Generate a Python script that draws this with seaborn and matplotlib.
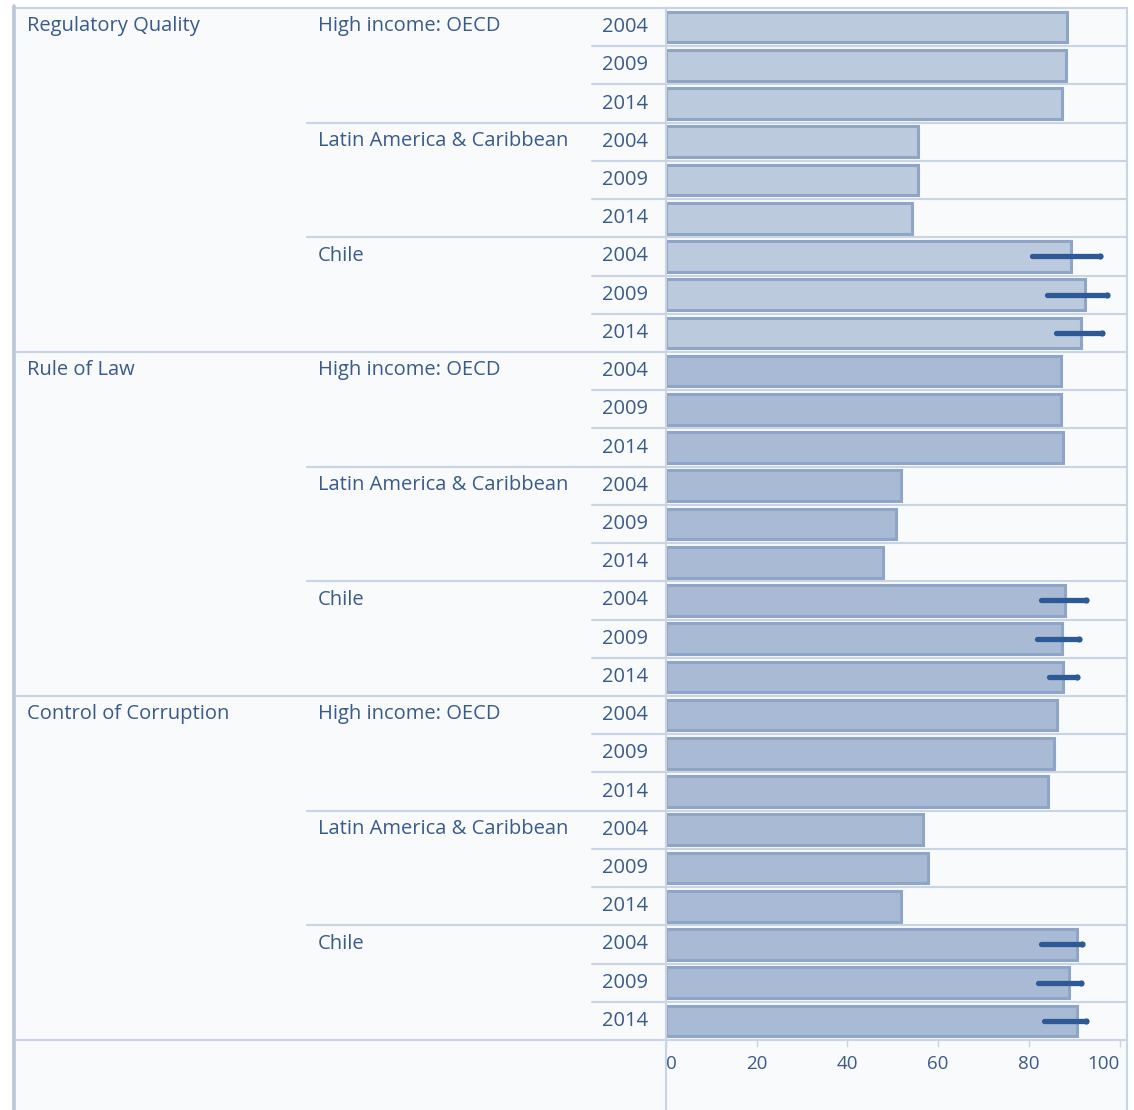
import matplotlib
matplotlib.use("Agg")
import matplotlib.pyplot as plt
import seaborn as sns
import pandas as pd
import numpy as np
from matplotlib import transforms
from matplotlib.lines import Line2D
from matplotlib.patches import Rectangle

# ---------------- data ----------------
indicators = ["Regulatory Quality", "Rule of Law", "Control of Corruption"]
regions = ["High income: OECD", "Latin America & Caribbean", "Chile"]
years = ["2004", "2009", "2014"]

rq_values = [88.4, 88.1, 87.2, 55.5, 55.5, 54.2, 89.2, 92.4, 91.6]
rl_values = [87.0, 87.0, 87.5, 51.7, 50.6, 47.8, 88.0, 87.3, 87.6]
cc_values = [86.3, 85.5, 84.3, 56.6, 57.8, 51.7, 90.5, 88.9, 90.5]

chile_lower = [80.7, 84.1, 85.9, 82.7, 81.9, 84.4, 82.7, 82.0, 83.4]
chile_upper = [95.7, 97.2, 96.1, 92.6, 91.0, 90.6, 91.8, 91.4, 92.6]

x_ticks = [0, 20, 40, 60, 80, 100]
x_tick_labels = ["0", "20", "40", "60", "80", "100"]

# ---------------- table ----------------
values_by_ind = [rq_values, rl_values, cc_values]
rows = []
r = 0
for ii, ind in enumerate(indicators):
    k = 0
    for reg in regions:
        for yr in years:
            rows.append(dict(row=r, indicator=ind, region=reg, year=yr,
                             value=values_by_ind[ii][k]))
            r += 1
            k += 1
df = pd.DataFrame(rows)
n_rows = len(df)

chile_df = df[df.region == "Chile"].copy().reset_index(drop=True)
chile_df["lo"] = chile_lower
chile_df["hi"] = chile_upper

# ---------------- style ----------------
W, H = 1134, 1110
text_color = "#3a5a8a"
line_color = "#c9d5e4"
panel_bg = "#f8fafc"
whisk_color = "#2d5a96"
font = ["Open Sans", "DejaVu Sans"]
fs = 14.5

sns.set_theme(style="white")
plt.rcParams["font.family"] = font

fig = plt.figure(figsize=(W / 100, H / 100), dpi=100, facecolor="white")

def fx(px):
    return px / W

def fy(py):
    return 1 - py / H

top_px, bottom_px = 8, 1040
left_px, right_px = 666, 1127
panel_left = 13

# panel background
fig.add_artist(Rectangle((fx(panel_left), 0), fx(right_px) - fx(panel_left), fy(6),
                         transform=fig.transFigure, facecolor=panel_bg,
                         edgecolor="none", zorder=0))

ax = fig.add_axes([fx(left_px), fy(bottom_px), fx(right_px) - fx(left_px),
                   (bottom_px - top_px) / H])
ax.set_facecolor("none")

palette = {"Regulatory Quality": "#bccadd",
           "Rule of Law": "#a8bad4",
           "Control of Corruption": "#a8bad4"}

sns.barplot(data=df, x="value", y="row", hue="indicator", palette=palette,
            orient="h", order=list(range(n_rows)), width=0.8, dodge=False,
            legend=False, ax=ax, edgecolor="#8ea5c7", linewidth=2.2,
            saturation=1)

# Chile uncertainty ranges
lc = ax.hlines(chile_df["row"], chile_df["lo"], chile_df["hi"],
               color=whisk_color, linewidth=3.8, zorder=5)
lc.set_capstyle("round")
ax.scatter(chile_df["hi"], chile_df["row"], s=20, color=whisk_color, zorder=6,
           linewidths=0)

ax.set_xlim(0, (right_px - left_px) / 4.536)
ax.set_ylim(n_rows - 0.5, -0.5)
ax.set_xlabel("")
ax.set_ylabel("")
ax.set_yticks([])
ax.set_xticks(x_ticks)
ax.set_xticklabels(x_tick_labels)
for sp in ax.spines.values():
    sp.set_visible(False)
ax.tick_params(axis="x", direction="out", length=5, width=1, color=line_color,
               labelcolor=text_color, labelsize=13.5, pad=6, bottom=True)
tl = ax.get_xticklabels()
tl[0].set_horizontalalignment("left")
tl[-1].set_horizontalalignment("right")

trans = transforms.blended_transform_factory(fig.transFigure, ax.transData)

def hline(y, x0px, x1px, lw=1.5):
    fig.add_artist(Line2D([fx(x0px), fx(x1px)], [y, y], transform=trans,
                          color=line_color, linewidth=lw, zorder=1))

def vline(xpx, y0px, y1px, lw=1.5, color=line_color):
    fig.add_artist(Line2D([fx(xpx), fx(xpx)], [fy(y0px), fy(y1px)],
                          transform=fig.transFigure, color=color,
                          linewidth=lw, zorder=1))

# separators
for i in range(n_rows + 1):
    y = i - 0.5
    if i % 9 == 0:
        hline(y, panel_left, right_px)
    elif i % 3 == 0:
        hline(y, 307, right_px)
    else:
        hline(y, 592, right_px)

vline(left_px, top_px, H)
vline(right_px, top_px, H)
vline(panel_left + 0.5, 6, H, lw=2.6, color="#b9c7da")

# labels
for _, row in df.iterrows():
    i = row["row"]
    ax.text(fx(648), i, row["year"], transform=trans, ha="right", va="center",
            color=text_color, fontsize=fs, clip_on=False)
    if i % 3 == 0:
        ax.text(fx(318), i - 0.02, row["region"], transform=trans, ha="left",
                va="center", color=text_color, fontsize=fs, clip_on=False)
    if i % 9 == 0:
        ax.text(fx(27), i - 0.02, row["indicator"], transform=trans, ha="left",
                va="center", color=text_color, fontsize=fs, clip_on=False)

fig.savefig("out.png", dpi=100, facecolor="white")
